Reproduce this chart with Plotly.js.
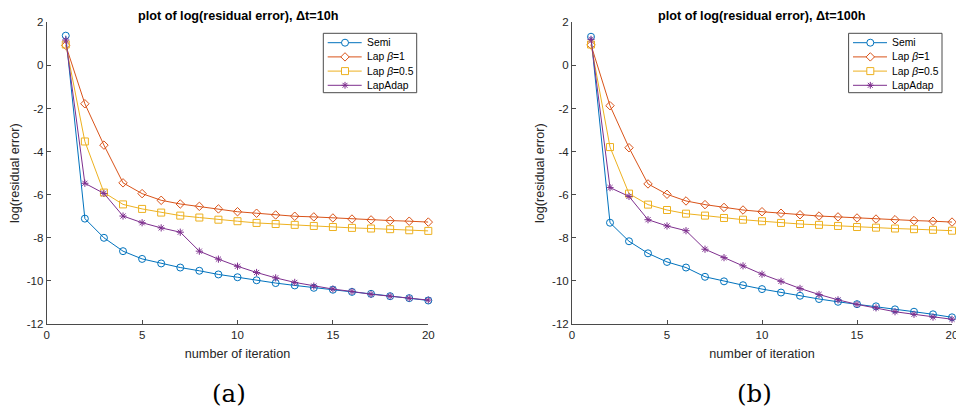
<!DOCTYPE html>
<html>
<head>
<meta charset="utf-8">
<script src="https://cdn.plot.ly/plotly-3.0.1.min.js"></script>
<style>
  html, body { margin: 0; padding: 0; background: #ffffff; }
  #chart { width: 956px; height: 409px; }
</style>
</head>
<body>
<div id="chart"></div>
<script>
// Residual error per iteration, two time steps
const iterations = [1, 2, 3, 4, 5, 6, 7, 8, 9, 10, 11, 12, 13, 14, 15, 16, 17, 18, 19, 20];

// Δt = 10h
const semi10   = [1.38, -7.11, -8.00, -8.62, -8.98, -9.19, -9.38, -9.53, -9.70, -9.83, -9.97, -10.10, -10.21, -10.32, -10.41, -10.51, -10.60, -10.71, -10.80, -10.91];
const lapB1_10 = [0.93, -1.78, -3.70, -5.45, -5.95, -6.26, -6.43, -6.54, -6.66, -6.79, -6.86, -6.94, -7.00, -7.03, -7.08, -7.13, -7.17, -7.20, -7.23, -7.27];
const lapB05_10 = [0.97, -3.53, -5.90, -6.45, -6.66, -6.83, -6.97, -7.06, -7.16, -7.23, -7.31, -7.36, -7.40, -7.45, -7.50, -7.54, -7.57, -7.60, -7.65, -7.68];
const lapAdap10 = [1.18, -5.47, -5.94, -6.99, -7.30, -7.54, -7.74, -8.62, -8.99, -9.32, -9.61, -9.86, -10.07, -10.24, -10.38, -10.49, -10.62, -10.71, -10.80, -10.89];

// Δt = 100h
const semi100   = [1.33, -7.30, -8.16, -8.72, -9.12, -9.38, -9.81, -10.02, -10.20, -10.38, -10.54, -10.69, -10.84, -10.97, -11.08, -11.18, -11.32, -11.43, -11.55, -11.69];
const lapB1_100 = [0.95, -1.87, -3.82, -5.50, -5.98, -6.29, -6.46, -6.59, -6.71, -6.79, -6.86, -6.93, -6.99, -7.03, -7.08, -7.13, -7.16, -7.20, -7.23, -7.27];
const lapB05_100 = [0.97, -3.79, -5.95, -6.46, -6.71, -6.88, -6.97, -7.08, -7.16, -7.23, -7.31, -7.36, -7.40, -7.45, -7.50, -7.53, -7.57, -7.60, -7.63, -7.67];
const lapAdap100 = [1.21, -5.67, -6.08, -7.16, -7.45, -7.67, -8.53, -8.92, -9.30, -9.69, -10.02, -10.35, -10.63, -10.88, -11.09, -11.25, -11.43, -11.55, -11.68, -11.78];

const seriesNames = ["Semi", "Lap <i>β</i>=1", "Lap <i>β</i>=0.5", "LapAdap"];
const seriesColors = ["#0072BD", "#D95319", "#EDB120", "#7E2F8E"];
const seriesSymbols = ["circle-open", "diamond-open", "square-open", "asterisk-open"];
const seriesSizes = [7, 6.5, 7, 6];

const panelTitles = ["plot of log(residual error), Δt=10h", "plot of log(residual error), Δt=100h"];
const panelTags = ["(a)", "(b)"];
const xTitle = "number of iteration";
const yTitle = "log(residual error)";

const xTickVals = [0, 5, 10, 15, 20];
const xTickText = ["0", "5", "10", "15", "20"];
const yTickVals = [-12, -10, -8, -6, -4, -2, 0, 2];
const yTickText = ["-12", "-10", "-8", "-6", "-4", "-2", "0", "2"];

const W = 956, H = 409;
const FONT = "Liberation Sans, Arial, Helvetica, sans-serif";
const INK = "#262626";
const AXIS = "#4a4a4a";

// pixel -> paper helpers for layout decorations
const px = x => x / W;
const py = y => 1 - y / H;

const panels = [
  { data: [semi10, lapB1_10, lapB05_10, lapAdap10], xa: "x", ya: "y", left: 46.7, right: 428.3 },
  { data: [semi100, lapB1_100, lapB05_100, lapAdap100], xa: "x2", ya: "y2", left: 572, right: 952 }
];
const plotTop = 22.3, plotBottom = 324;

const traces = [];
panels.forEach(p => {
  p.data.forEach((vals, i) => {
    traces.push({
      type: "scatter",
      mode: "lines+markers",
      x: iterations,
      y: vals,
      xaxis: p.xa,
      yaxis: p.ya,
      name: seriesNames[i],
      showlegend: false,
      line: { color: seriesColors[i], width: 1 },
      marker: { symbol: seriesSymbols[i], size: seriesSizes[i], color: seriesColors[i], line: { color: seriesColors[i], width: 1 } },
      cliponaxis: false
    });
  });
});

function xAxis(domain, anchor) {
  return {
    domain: domain, anchor: anchor, range: [0, 20],
    tickmode: "array", tickvals: xTickVals, ticktext: xTickText,
    ticks: "inside", ticklen: 4, tickwidth: 1, tickcolor: AXIS,
    ticklabeloverflow: "allow",
    showline: true, linecolor: AXIS, linewidth: 1,
    showgrid: false, zeroline: false, automargin: false,
    tickfont: { family: FONT, size: 11.5, color: INK },
    title: { text: xTitle, font: { family: FONT, size: 12.65, color: INK }, standoff: 9 }
  };
}
function yAxis(domain, anchor) {
  return {
    domain: domain, anchor: anchor, range: [-12, 2],
    tickmode: "array", tickvals: yTickVals, ticktext: yTickText,
    ticks: "inside", ticklen: 4, tickwidth: 1, tickcolor: AXIS,
    showline: true, linecolor: AXIS, linewidth: 1,
    showgrid: false, zeroline: false, automargin: false,
    tickfont: { family: FONT, size: 11.5, color: INK },
    title: { text: yTitle, font: { family: FONT, size: 12.65, color: INK }, standoff: 4 }
  };
}

const yDom = [py(plotBottom), py(plotTop)];

const shapes = [];
const annotations = [];

panels.forEach((p, k) => {
  const cx = (p.left + p.right) / 2;
  annotations.push({
    xref: "paper", yref: "paper", x: px(cx), y: py(16), xanchor: "center", yanchor: "middle",
    text: "<b>" + panelTitles[k] + "</b>", showarrow: false,
    font: { family: FONT, size: 12.65, color: "#000000" }
  });
  annotations.push({
    xref: "paper", yref: "paper", x: px(k === 0 ? 229 : 754), y: py(393), xanchor: "center", yanchor: "middle",
    text: panelTags[k], showarrow: false,
    font: { family: "DejaVu Serif, serif", size: 24.5, color: "#000000" }
  });

  // legend box in the upper right corner of each panel
  const bw = 93.4, bh = 59.4;
  const bx = p.right - (k === 0 ? 11.6 : 10) - bw;
  const by = 33.3;
  shapes.push({
    type: "rect", xref: "paper", yref: "paper",
    x0: px(bx), x1: px(bx + bw), y0: py(by), y1: py(by + bh),
    line: { color: AXIS, width: 1 }, fillcolor: "#ffffff", layer: "above"
  });
  seriesNames.forEach((name, i) => {
    const ry = by + 9.4 + i * 14.2;
    const c = seriesColors[i];
    const mx = bx + 21.7;
    shapes.push({
      type: "line", xref: "paper", yref: "paper",
      x0: px(bx + 4.4), x1: px(bx + 38.4), y0: py(ry), y1: py(ry),
      line: { color: c, width: 1 }, layer: "above"
    });
    let h;
    if (i === 0) {
      h = 3.5;
      shapes.push({ type: "circle", xref: "paper", yref: "paper",
        x0: px(mx - h), x1: px(mx + h), y0: py(ry - h), y1: py(ry + h),
        line: { color: c, width: 1 }, fillcolor: "#ffffff", layer: "above" });
    } else if (i === 1) {
      h = 4.2;
      shapes.push({ type: "path", xref: "paper", yref: "paper",
        path: `M ${px(mx)},${py(ry - h)} L ${px(mx + h)},${py(ry)} L ${px(mx)},${py(ry + h)} L ${px(mx - h)},${py(ry)} Z`,
        line: { color: c, width: 1 }, fillcolor: "#ffffff", layer: "above" });
    } else if (i === 2) {
      h = 3.5;
      shapes.push({ type: "rect", xref: "paper", yref: "paper",
        x0: px(mx - h), x1: px(mx + h), y0: py(ry - h), y1: py(ry + h),
        line: { color: c, width: 1 }, fillcolor: "#ffffff", layer: "above" });
    } else {
      h = 3.4;
      const d = h * 0.72;
      shapes.push({ type: "path", xref: "paper", yref: "paper",
        path: `M ${px(mx - h)},${py(ry)} L ${px(mx + h)},${py(ry)} M ${px(mx)},${py(ry - h)} L ${px(mx)},${py(ry + h)} ` +
              `M ${px(mx - d)},${py(ry - d)} L ${px(mx + d)},${py(ry + d)} M ${px(mx - d)},${py(ry + d)} L ${px(mx + d)},${py(ry - d)}`,
        line: { color: c, width: 1 }, layer: "above" });
    }
    annotations.push({
      xref: "paper", yref: "paper", x: px(bx + 41.5), y: py(ry), xanchor: "left", yanchor: "middle",
      text: name, showarrow: false,
      font: { family: FONT, size: 10.35, color: "#000000" }
    });
  });
});

const layout = {
  width: W, height: H,
  margin: { l: 0, r: 0, t: 0, b: 0 },
  paper_bgcolor: "#ffffff", plot_bgcolor: "#ffffff",
  showlegend: false,
  xaxis: xAxis([px(panels[0].left), px(panels[0].right)], "y"),
  yaxis: yAxis(yDom, "x"),
  xaxis2: xAxis([px(panels[1].left), px(panels[1].right)], "y2"),
  yaxis2: yAxis(yDom, "x2"),
  shapes: shapes,
  annotations: annotations
};

Plotly.newPlot("chart", traces, layout, { displayModeBar: false, staticPlot: true });
</script>
</body>
</html>
